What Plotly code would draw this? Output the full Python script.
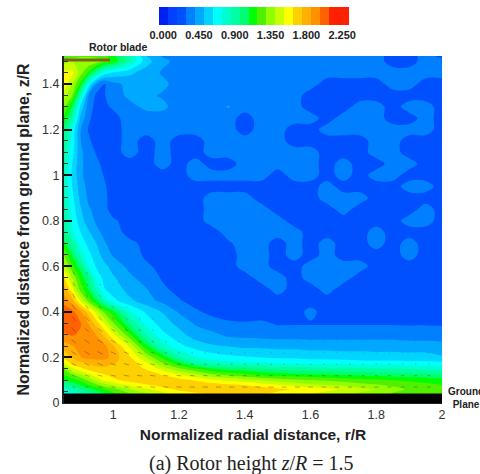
import plotly.graph_objects as go
import numpy as np

d, l, m = 0.22, 0.34, 0.42

R = [.85,.875,.9,.925,.95,.975,1.0,1.05,1.1,1.15,1.2,1.25,1.3,1.35,1.4,1.45,1.5,1.55,1.6,1.65,1.7,1.75,1.8,1.85,1.9,1.95,2.0]
Z = [.04,.06,.08,.1,.125,.15,.175,.2,.25,.3,.35,.4,.45,.5,.55,.6,.65,.7,.75,.8,.85,.9,.95,1.0,1.05,1.1,1.15,1.2,1.25,1.3,1.35,1.4,1.45,1.5,1.525]

SPEED = [
 [.7,.78,.85,.92,1.0,1.08,1.15,1.28,1.38,1.48,1.55,1.6,1.65,1.68,1.68,1.65,1.6,1.56,1.52,1.48,1.43,1.38,1.33,1.28,1.24,1.2,1.18],
 [.8,.85,.95,1.02,1.1,1.18,1.25,1.4,1.5,1.58,1.66,1.7,1.72,1.72,1.72,1.7,1.66,1.62,1.6,1.55,1.5,1.45,1.4,1.33,1.28,1.22,1.2],
 [.92,1.0,1.08,1.18,1.28,1.38,1.45,1.55,1.62,1.68,1.7,1.7,1.68,1.65,1.62,1.58,1.52,1.48,1.42,1.4,1.38,1.33,1.3,1.27,1.24,1.2,1.18],
 [1.05,1.12,1.2,1.32,1.45,1.55,1.6,1.68,1.7,1.7,1.68,1.62,1.55,1.5,1.45,1.4,1.36,1.32,1.3,1.28,1.25,1.22,1.2,1.18,1.16,1.15,1.13],
 [1.18,1.3,1.4,1.5,1.58,1.63,1.67,1.7,1.7,1.62,1.52,1.42,1.32,1.25,1.2,1.15,1.12,1.1,1.08,1.06,1.05,1.04,1.02,1.0,1.0,.98,.95],
 [1.3,1.5,1.6,1.68,1.72,1.72,1.72,1.7,1.62,1.48,1.32,1.2,1.08,1.02,1.0,.95,.92,.9,.9,.88,.88,.87,.86,.85,.84,.82,.8],
 [1.5,1.68,1.72,1.75,1.78,1.78,1.75,1.7,1.55,1.3,1.1,.9,.82,.78,.76,.75,.72,.72,.7,.7,.7,.68,.68,.68,.66,.66,.65],
 [1.65,1.75,1.85,1.9,1.9,1.9,1.8,1.65,1.4,1.15,.88,.75,.68,.65,.63,.62,.6,.6,.58,.58,.56,.56,.55,.55,.55,.55,.52],
 [1.8,1.85,1.9,1.92,1.9,1.88,1.75,1.5,1.1,.8,.65,.57,.52,.5,.48,.48,.47,.47,.46,.46,.46,.46,.46,.46,.45,.45,.44],
 [1.95,1.98,1.95,1.9,1.85,1.7,1.55,1.2,.85,.65,.55,.45,.42,.37,.36,.35,.34,.34,.34,.34,.34,.34,.34,.34,.33,.33,.32],
 [2.05,2.05,1.98,1.85,1.68,1.5,1.3,.95,.7,.56,.47,.38,.33,.3,.29,.3,.27,.27,.27,.27,.27,.27,.27,.27,.27,.27,.27],
 [2.05,2.0,1.88,1.68,1.45,1.25,1.1,.75,.6,.5,.38,.3,.25,d,d,d,d,d,.32,d,d,d,d,d,d,d,d],
 [1.92,1.8,1.5,1.25,1.05,.8,.65,.53,.44,.36,.29,.24,d,d,d,d,d,d,d,d,d,d,d,d,d,d,d],
 [1.8,1.55,1.25,1.05,.8,.62,.57,.46,.4,.3,.25,d,d,d,d,d,l,d,d,l,d,d,d,d,d,d,d],
 [1.65,1.4,1.15,.95,.68,.58,.52,.42,.34,.27,d,d,d,d,d,l,l,d,l,l,l,d,d,d,d,d,d],
 [1.45,1.2,1.0,.72,.6,.53,.46,.36,.3,.25,d,d,d,d,l,l,d,d,l,l,l,l,d,d,d,d,d],
 [1.3,1.05,.8,.65,.55,.45,.38,.34,.26,d,d,d,d,d,l,l,d,l,d,l,d,d,d,d,l,d,d],
 [1.1,.9,.7,.58,.5,.4,.35,.31,.25,d,d,d,d,.26,l,l,d,l,d,l,d,d,l,d,l,d,d],
 [.95,.75,.62,.52,.42,.36,.33,.24,d,d,d,d,d,l,l,l,l,l,d,d,d,d,l,d,d,d,d],
 [.9,.72,.55,.45,.37,.33,.3,.23,d,d,d,d,l,l,l,l,l,d,d,d,d,d,d,d,l,l,d],
 [.88,.68,.52,.41,.35,.31,.23,d,d,d,d,d,l,l,l,l,d,d,d,d,l,d,d,d,d,l,d],
 [.87,.65,.48,.37,.34,.3,.23,d,d,d,d,d,l,l,l,d,d,d,d,l,l,l,d,d,d,d,d],
 [.85,.62,.45,.36,.33,.29,.23,d,d,d,d,d,d,d,d,d,d,d,d,l,d,d,d,d,l,l,d],
 [.85,.6,.42,.34,.32,.27,d,d,d,d,d,l,l,l,l,l,d,l,l,d,l,d,l,l,d,d,d],
 [.87,.62,.42,.34,.3,.25,d,d,d,l,d,l,d,d,l,l,l,l,l,d,l,d,d,l,l,d,d],
 [.9,.66,.42,.33,.27,.23,d,l,d,l,d,d,l,l,l,l,l,l,l,d,d,d,l,l,d,d,d],
 [.95,.7,.4,.3,.23,d,d,l,d,l,d,d,l,l,l,l,l,d,d,d,d,d,l,l,d,d,d],
 [1.0,.72,.4,.27,d,d,d,l,l,l,l,l,l,l,d,l,l,d,d,l,l,l,l,l,l,l,d],
 [1.15,.9,.48,.3,.23,.23,.24,l,l,l,l,l,l,l,d,l,l,l,l,d,l,l,l,d,d,l,d],
 [1.3,1.05,.6,.33,.24,.26,.3,.36,m,m,l,l,l,.4,l,l,l,l,d,d,d,l,l,d,l,l,d],
 [1.45,1.3,.85,.38,.25,.28,.34,m,m,.38,l,l,l,l,l,l,l,l,d,d,d,d,d,d,d,d,d],
 [1.6,1.4,1.15,.7,.36,.27,.36,.43,.44,.42,.35,l,l,l,l,l,l,l,l,d,d,d,d,l,l,d,d],
 [1.55,1.55,1.35,1.15,.9,.68,.6,.53,.46,.38,l,l,l,l,l,l,l,l,.38,l,l,l,l,l,l,l,l],
 [1.35,1.4,1.4,1.4,1.35,1.25,1.15,.85,.55,.42,.36,l,l,l,l,l,l,l,l,l,l,l,l,d,d,l,l],
 [1.15,1.2,1.25,1.25,1.25,1.2,1.1,.85,.5,.38,l,l,l,l,l,l,l,l,l,l,l,l,l,d,d,l,d],
]

TICK_VALUES = [0.0, 0.45, 0.9, 1.35, 1.8, 2.25]
BAND_COLORS = ["#0020f0","#0040ff","#0050ff","#0080ff","#00a8ff","#00d4ff","#00ffff",
               "#00ffd0","#00ffa0","#00ff70","#00ff30","#00ff00","#50f000","#90ff00",
               "#c8ff00","#ffff00","#ffd000","#ffb000","#ff9000","#ff6000","#ff2000"]

# Arrow directions (degrees, on the page)
ARROW_R = [.88,.92,.96,1.0,1.04,1.08,1.12,1.16,1.2,1.24,1.28,1.32,1.36,1.4,1.44,1.48,1.52,1.56,1.6,1.64,1.68,1.72,1.76,1.8,1.84,1.88,1.92,1.96]
ARROW_Z = [.07,.12,.17,.22,.27,.32,.37,.42,.47,.52,.57]
ANGLE_R = [.88,1.0,1.2,1.5,2.0]
ANGLE_TABLE = [
 [-15,-8,-3,-2,0],
 [-22,-12,-5,-3,-1],
 [-28,-18,-8,-3,-1],
 [-32,-24,-12,-4,-1],
 [-38,-30,-18,-6,-2],
 [-44,-36,-24,-8,-2],
 [-50,-42,-30,-10,-3],
 [-55,-48,-35,-12,-3],
 [-60,-52,-40,-15,-3],
 [-65,-58,-45,-15,-3],
 [-70,-60,-45,-15,-3],
]

FIG_W = 500
L, T, W, H = 63.5, 56, 378.5, 347
XR = [0.85, 2.0]
YR = [0.0, 1.523]
px_x = W / (XR[1] - XR[0])
px_y = H / (YR[1] - YR[0])

speed = np.array(SPEED)
ax, ay = [], []
for iz, zz in enumerate(ARROW_Z):
    a_row = np.interp(ARROW_R, ANGLE_R, ANGLE_TABLE[iz])
    for rr, ang in zip(ARROW_R, a_row):
        col = np.array([np.interp(zz, Z, speed[:, j]) for j in range(len(R))])
        s = float(np.interp(rr, R, col))
        half = max(0.5, 3.2 * (s - 0.35)) / 1.6 if s > 0.4 else 0
        if half == 0:
            continue
        dr = half * np.cos(np.radians(ang)) / px_x
        dz = half * np.sin(np.radians(ang)) / px_y
        ax += [rr - dr, rr + dr, None]
        ay += [zz - dz, zz + dz, None]

start, end, size = -0.05625, 2.30625, 0.1125
n = len(BAND_COLORS)
cs = []
for i, c in enumerate(BAND_COLORS):
    cs += [[i / n, c], [(i + 1) / n, c]]

fig = go.Figure()
fig.add_trace(go.Contour(
    x=R, y=Z, z=SPEED, zmin=start, zmax=end, colorscale=cs,
    contours=dict(start=start, end=end, size=size, coloring="fill", showlines=False),
    line=dict(width=0),
    colorbar=dict(orientation="h", xref="container", yref="container",
                  x=253 / W, xanchor="center", y=1 - 7 / 474, yanchor="top",
                  lenmode="pixels", len=188, thickness=18, thicknessmode="pixels",
                  xpad=0, ypad=0, outlinewidth=0, ticks="", tickmode="array",
                  tickvals=TICK_VALUES, ticktext=[f"<b>{v:.3f}</b>" for v in TICK_VALUES],
                  ticklabelposition="outside bottom",
                  tickfont=dict(family="Liberation Sans", size=11, color="#222")),
    hoverinfo="skip", showlegend=False))
fig.add_trace(go.Scatter(x=ax, y=ay, mode="lines", connectgaps=False,
                         line=dict(color="rgba(70,70,40,0.42)", width=1), hoverinfo="skip", showlegend=False))
fig.add_trace(go.Scatter(x=[0.85, 0.99], y=[1.505, 1.505], mode="lines",
                         line=dict(color="#7a6420", width=3), hoverinfo="skip", showlegend=False))

fig.add_shape(type="rect", xref="x", yref="y", x0=0.85, x1=2.0, y0=0, y1=0.042,
              fillcolor="black", line_width=0, layer="above")

fig.update_xaxes(range=XR, tickmode="array", tickvals=[1, 1.2, 1.4, 1.6, 1.8, 2],
                 ticktext=["1", "1.2", "1.4", "1.6", "1.8", "2"],
                 ticks="inside", ticklen=8, tickwidth=2, tickcolor="#111",
                 showgrid=False, zeroline=False, showline=True, linecolor="#222", linewidth=1,
                 tickfont=dict(family="Liberation Sans", size=12.5, color="#333"),
                 title=dict(text="<b>Normalized radial distance, r/R</b>", standoff=8,
                            font=dict(family="Liberation Sans", size=15.5, color="#222")))
fig.update_yaxes(range=YR, tickmode="array", tickvals=[0, .2, .4, .6, .8, 1, 1.2, 1.4],
                 ticktext=["0", "0.2", "0.4", "0.6", "0.8", "1", "1.2", "1.4"],
                 ticks="inside", ticklen=8, tickwidth=2, tickcolor="#111",
                 minor=dict(ticks="inside", ticklen=4, tickwidth=1, tickcolor="#333", dtick=0.05),
                 showgrid=False, zeroline=False, showline=True, linecolor="#222", linewidth=2,
                 tickfont=dict(family="Liberation Sans", size=12.5, color="#333"),
                 title=dict(text="<b>Normalized distance from ground plane, z/R</b>", standoff=9,
                            font=dict(family="Liberation Sans", size=15.9, color="#222")))

fig.update_layout(
    width=FIG_W, height=474, paper_bgcolor="white", plot_bgcolor="white",
    margin=dict(l=L, r=FIG_W - L - W, t=T, b=474 - T - H, autoexpand=False),
    annotations=[
        dict(text="<b>Rotor blade</b>", xref="paper", yref="paper", x=(118 - L) / W, y=1 + 9 / H,
             xanchor="center", yanchor="middle", showarrow=False,
             font=dict(family="Liberation Sans", size=10.5, color="#222")),
        dict(text="<b>Ground<br>Plane</b>", xref="paper", yref="paper", x=(466 - L) / W, y=(T + H - 397.5) / H,
             xanchor="center", yanchor="middle", showarrow=False, align="center",
             font=dict(family="Liberation Sans", size=10, color="#222")),
        dict(text="(a) Rotor height <i>z</i>/<i>R</i> = 1.5", xref="paper", yref="paper",
             x=(251 - L) / W, y=-(463 - T - H) / H, xanchor="center", yanchor="middle", showarrow=False,
             font=dict(family="Liberation Serif", size=20, color="#222")),
    ])
fig.write_html("out.html", config={"displayModeBar": False},
               post_script="document.body.style.margin='0';document.body.style.overflow='hidden';")
